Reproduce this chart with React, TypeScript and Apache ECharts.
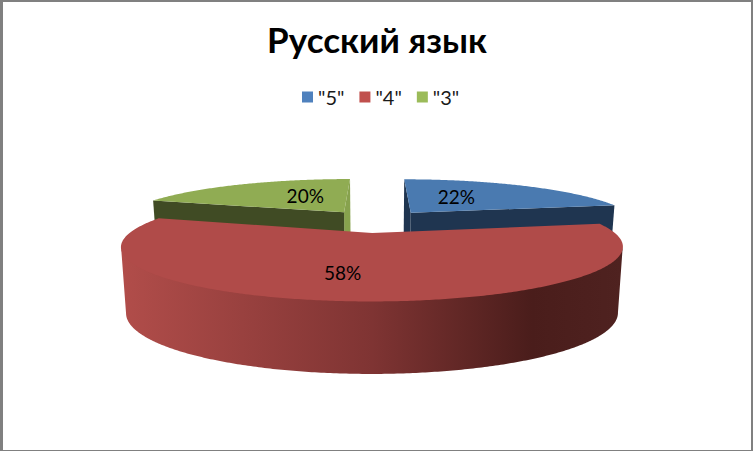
import React, { useEffect, useRef } from "react";
import * as echarts from "echarts";

const titleText = "Русский язык";
const categories = ['"5"', '"4"', '"3"'];
const shares = [22, 58, 20];

const FONT = "Lato, 'Noto Sans', sans-serif";
const legendColors = ["#4F81BD", "#C0504D", "#9BBB59"];
const topColors = ["#4A7AB0", "#B04B49", "#90AC53"];
const cutStartColors = ["#1F3550", "#4A1E1C", "#404B24"];
const cutEndColors = ["#1F3550", "#4A1E1C", "#87A24D"];
const labelNudge = [[-22, 0], [-17, 0], [23, 0]];

// projection constants of the 3D view
const CX = 376;
const CY = 221;
const SCALE_X = 228;
const SCALE_Y = 45;
const PERSP = 0.241;
const EXPLODE = 0.25;
const LABEL_R = [0.56, 0.65, 0.56];

const total = shares.reduce((a, b) => a + b, 0);
const startAngles = shares.map((_, i) =>
  (shares.slice(0, i).reduce((a, b) => a + b, 0) / total) * Math.PI * 2
);

function project(X: number, Z: number): number[] {
  const f = 1 / (1 - PERSP * Z);
  return [CX + X * SCALE_X * f, CY + Z * SCALE_Y * f, f];
}
function drop(p: number[]): number[] {
  return [CX + (p[0] - CX) * 0.98, p[1] + 41 + 22 * p[2]];
}
function pt(cxW: number, czW: number, r: number, a: number): number[] {
  return project(cxW + r * Math.sin(a), czW - r * Math.cos(a));
}

function renderSlice(params: any, api: any) {
  const i = params.seriesIndex;
  const sweep = (api.value(0) / total) * Math.PI * 2;
  const a0 = startAngles[i];
  const a1 = a0 + sweep;
  const mid = (a0 + a1) / 2;
  const ox = EXPLODE * Math.sin(mid);
  const oz = -EXPLODE * Math.cos(mid);

  const apex = pt(ox, oz, 0, 0);
  const arc: number[][] = [];
  const n = Math.ceil(sweep / 0.01);
  for (let k = 0; k <= n; k++) arc.push(pt(ox, oz, 1, a0 + (sweep * k) / n));
  const xy = (p: number[]) => [p[0], p[1]];

  const poly = (points: number[][], fill: any) => ({
    type: "polygon",
    shape: { points },
    style: { fill, stroke: "none" },
    silent: true,
  });

  const children: any[] = [];
  const first = arc[0];
  const last = arc[arc.length - 1];
  const side = new echarts.graphic.LinearGradient(
    122, 0, 622, 0,
    [
      { offset: 0, color: "#B14D4A" },
      { offset: 0.5, color: "#7F3433" },
      { offset: 0.82, color: "#4A1D1B" },
      { offset: 1, color: "#4F2220" },
    ],
    true
  );
  if (i === 1) {
    // the big slice: only the rim between its two horizontal extremes faces the
    // viewer, and its two cut faces are turned away, so they are not drawn.
    let iMax = 0;
    let iMin = 0;
    arc.forEach((p, k) => {
      if (p[0] > arc[iMax][0]) iMax = k;
      if (p[0] < arc[iMin][0]) iMin = k;
    });
    const front = arc.slice(iMax, iMin + 1);
    const overlap = front.map((p) => [p[0], p[1] - 2]);
    children.push(poly([...overlap, ...front.map(drop).reverse()], side));
  } else {
    children.push(
      poly([xy(apex), xy(last), drop(last), drop(apex)], cutEndColors[i]),
      poly([xy(apex), xy(first), drop(first), drop(apex)], cutStartColors[i])
    );
  }
  children.push(poly([xy(apex), ...arc.map(xy)], topColors[i]));

  const lp = pt(ox, oz, LABEL_R[i], mid);
  children.push({
    type: "text",
    silent: true,
    x: lp[0] + labelNudge[i][0],
    y: lp[1] + labelNudge[i][1],
    style: {
      text: `${api.value(0)}%`,
      fill: "#000000",
      font: `400 19px ${FONT}`,
      align: "center",
      verticalAlign: "middle",
    },
  });
  return { type: "group", children };
}

const borderRects = [
  { x: 0, y: 0, width: 753, height: 2 },
  { x: 0, y: 0, width: 3, height: 451 },
  { x: 751, y: 0, width: 2, height: 451 },
  { x: 0, y: 450, width: 753, height: 1 },
];

export default function App() {
  const ref = useRef<HTMLDivElement>(null);
  useEffect(() => {
    document.body.style.margin = "0";
    document.body.style.background = "#ffffff";
    const chart = echarts.init(ref.current!, null, { renderer: "svg" });
    chart.setOption({
      animation: false,
      backgroundColor: "#ffffff",
      title: {
        text: titleText,
        left: 372,
        top: 16,
        textAlign: "center",
        textStyle: { fontFamily: FONT, fontWeight: 700, fontSize: 35, color: "#000000" },
      },
      legend: {
        left: 297,
        top: 82,
        icon: "rect",
        itemWidth: 11,
        itemHeight: 11,
        itemGap: 15,
        selectedMode: false,
        data: categories,
        textStyle: { fontFamily: FONT, fontSize: 20, color: "#1a1a1a" },
      },
      graphic: borderRects.map((shape) => ({
        type: "rect",
        silent: true,
        shape,
        style: { fill: "#808080" },
      })),
      series: categories.map((name, i) => ({
        type: "custom",
        name,
        coordinateSystem: "none",
        z: i === 1 ? 5 : 2,
        itemStyle: { color: legendColors[i] },
        renderItem: renderSlice,
        data: [shares[i]],
      })),
    });
    return () => chart.dispose();
  }, []);
  return <div ref={ref} style={{ width: 753, height: 451 }} />;
}
